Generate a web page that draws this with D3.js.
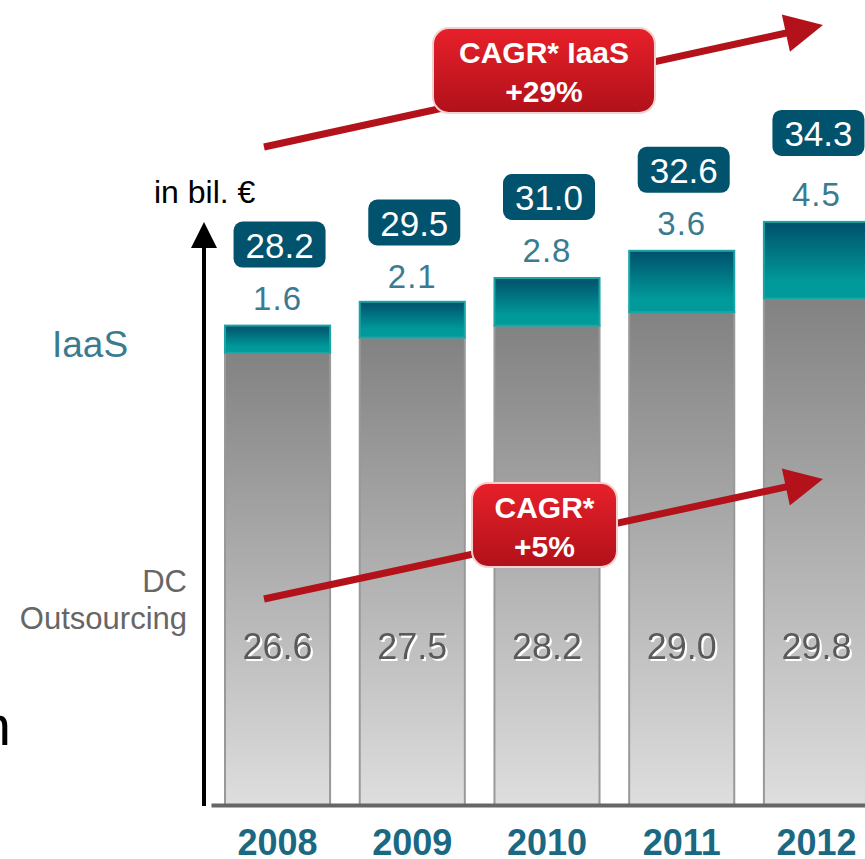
<!DOCTYPE html>
<html>
<head>
<meta charset="utf-8">
<title>DC Outsourcing and IaaS</title>
<style>
  body { margin: 0; background: #fff; }
  svg { display: block; font-family: "Liberation Sans", Arial, sans-serif; }
</style>
</head>
<body>
<div id="chart"></div>
<script src="https://cdn.jsdelivr.net/npm/d3@7"></script>
<script>
// data
const years = ["2008", "2009", "2010", "2011", "2012"];
const dcValues = [26.6, 27.5, 28.2, 29.0, 29.8];
const iaasValues = [1.6, 2.1, 2.8, 3.6, 4.5];
const totals = [28.2, 29.5, 31.0, 32.6, 34.3];
const yearTicks = ["2008", "2009", "2010", "2011", "2012"];

const W = 865, H = 859;
const baseY = 805;

const svg = d3.select('#chart').append('svg')
  .attr('width', W)
  .attr('height', H);

const defs = svg.append('defs');

const gGrey = defs.append('linearGradient').attr('id', 'grey').attr('x1', 0).attr('y1', 0).attr('x2', 0).attr('y2', 1);
gGrey.append('stop').attr('offset', 0).attr('stop-color', '#828282');
gGrey.append('stop').attr('offset', 1).attr('stop-color', '#dedede');

const gTeal = defs.append('linearGradient').attr('id', 'teal').attr('x1', 0).attr('y1', 0).attr('x2', 0).attr('y2', 1);
gTeal.append('stop').attr('offset', 0).attr('stop-color', '#00506b');
gTeal.append('stop').attr('offset', 0.78).attr('stop-color', '#009a9a');
gTeal.append('stop').attr('offset', 1).attr('stop-color', '#009a9a');

const gRed = defs.append('linearGradient').attr('id', 'red').attr('x1', 0).attr('y1', 0).attr('x2', 0).attr('y2', 1);
gRed.append('stop').attr('offset', 0).attr('stop-color', '#e8202a');
gRed.append('stop').attr('offset', 1).attr('stop-color', '#b0111a');

// white drop shadow for the DC values
const shadow = defs.append('filter').attr('id', 'wshadow')
  .attr('x', -0.1).attr('y', -0.1).attr('width', 1.3).attr('height', 1.3);
shadow.append('feFlood').attr('flood-color', '#fff').attr('result', 'c');
shadow.append('feComposite').attr('in', 'c').attr('in2', 'SourceAlpha').attr('operator', 'in').attr('result', 'w');
shadow.append('feOffset').attr('in', 'w').attr('dx', 2).attr('dy', 2).attr('result', 'o');
const merge = shadow.append('feMerge');
merge.append('feMergeNode').attr('in', 'o');
merge.append('feMergeNode').attr('in', 'SourceGraphic');

// scales
const x = d3.scaleBand()
  .domain(years)
  .range([211, 883])
  .paddingInner(0.22)
  .paddingOuter(0.104);

const y = d3.scaleLinear()
  .domain([0, 35])
  .range([baseY, baseY - 35 * 17]);

const rows = years.map((yr, i) => ({
  year: yr, dc: dcValues[i], iaas: iaasValues[i], total: totals[i]
}));

// bars
const bars = svg.append('g');
bars.selectAll('rect.dc')
  .data(rows)
  .enter().append('rect')
  .attr('class', 'dc')
  .attr('x', d => x(d.year))
  .attr('y', d => y(d.dc))
  .attr('width', x.bandwidth())
  .attr('height', d => y(0) - y(d.dc))
  .attr('fill', 'url(#grey)')
  .attr('stroke', '#999')
  .attr('stroke-width', 2);

bars.selectAll('rect.iaas')
  .data(rows)
  .enter().append('rect')
  .attr('class', 'iaas')
  .attr('x', d => x(d.year))
  .attr('y', d => y(d.dc + d.iaas))
  .attr('width', x.bandwidth())
  .attr('height', d => y(d.dc) - y(d.dc + d.iaas))
  .attr('fill', 'url(#teal)')
  .attr('stroke', '#1aa5a5')
  .attr('stroke-width', 2);

// dc values
svg.append('g')
  .attr('font-size', 36)
  .attr('text-anchor', 'middle')
  .selectAll('text')
  .data(rows)
  .enter().append('text')
  .attr('x', d => x(d.year) + x.bandwidth() / 2)
  .attr('y', 659)
  .attr('fill', '#5a5a5a')
  .attr('filter', 'url(#wshadow)')
  .text(d => d.dc.toFixed(1));

// iaas values
svg.append('g').selectAll('text')
  .data(rows)
  .enter().append('text')
  .attr('x', d => x(d.year) + x.bandwidth() / 2)
  .attr('y', d => y(d.total) - 16)
  .attr('text-anchor', 'middle')
  .attr('font-size', 33)
  .attr('letter-spacing', 1)
  .attr('fill', '#3b7b92')
  .text(d => d.iaas.toFixed(1));

// total badges
const badge = svg.append('g').selectAll('g')
  .data(rows)
  .enter().append('g')
  .attr('transform', d => `translate(${x(d.year) + x.bandwidth() / 2 + 2},${y(d.total) - 81 - (d.total > 34 ? 8 : 0)})`);
badge.append('rect')
  .attr('x', -46).attr('y', -23)
  .attr('width', 92).attr('height', 46)
  .attr('rx', 9)
  .attr('fill', '#00526d');
badge.append('text')
  .attr('y', 13)
  .attr('text-anchor', 'middle')
  .attr('font-size', 35)
  .attr('fill', '#fff')
  .text(d => d.total.toFixed(1));

// x axis
const xAxis = svg.append('g')
  .attr('transform', `translate(0,${baseY})`)
  .call(d3.axisBottom(x).tickValues(yearTicks).tickSize(0).tickPadding(24));
xAxis.select('.domain')
  .attr('stroke', '#666')
  .attr('stroke-width', 4);
xAxis.selectAll('text')
  .attr('font-family', '"Liberation Sans", Arial, sans-serif')
  .attr('font-size', 36)
  .attr('font-weight', 'bold')
  .attr('fill', '#1b6882');

// y axis arrow
svg.append('line')
  .attr('x1', 204).attr('x2', 204)
  .attr('y1', baseY + 1).attr('y2', 246)
  .attr('stroke', '#000')
  .attr('stroke-width', 4);
svg.append('path')
  .attr('d', 'M191,248 L217,248 L204,222 Z')
  .attr('fill', '#000');

svg.append('text')
  .attr('x', 154).attr('y', 203)
  .attr('font-size', 32)
  .attr('fill', '#000')
  .text('in bil. €');

// series labels
svg.append('text')
  .attr('x', 52).attr('y', 357)
  .attr('font-size', 37)
  .attr('fill', '#3b7b92')
  .text('IaaS');
svg.append('text')
  .attr('x', 187).attr('y', 592)
  .attr('text-anchor', 'end')
  .attr('font-size', 31)
  .attr('fill', '#666')
  .text('DC');
svg.append('text')
  .attr('x', 187).attr('y', 629)
  .attr('text-anchor', 'end')
  .attr('font-size', 31)
  .attr('fill', '#666')
  .text('Outsourcing');

svg.append('text')
  .attr('x', 11).attr('y', 745)
  .attr('text-anchor', 'end')
  .attr('font-size', 56)
  .attr('fill', '#000')
  .text('n');

// CAGR arrows
function arrow(x1, y1, tip) {
  const dx = tip[0] - x1, dy = tip[1] - y1;
  const len = Math.hypot(dx, dy);
  const ux = dx / len, uy = dy / len;
  const bx = tip[0] - ux * 38, by = tip[1] - uy * 38;
  svg.append('line')
    .attr('x1', x1).attr('y1', y1)
    .attr('x2', bx + ux * 4).attr('y2', by + uy * 4)
    .attr('stroke', '#b3121b')
    .attr('stroke-width', 7);
  svg.append('path')
    .attr('d', `M${tip[0]},${tip[1]} L${bx - uy * 19},${by + ux * 19} L${bx + uy * 19},${by - ux * 19} Z`)
    .attr('fill', '#b3121b');
}
arrow(264, 147, [823, 25]);
arrow(264, 599, [823, 479]);

function cagrBox(cx, top, w, h, lines) {
  const g = svg.append('g');
  g.append('rect')
    .attr('x', cx - w / 2).attr('y', top)
    .attr('width', w).attr('height', h)
    .attr('rx', 16)
    .attr('fill', 'url(#red)')
    .attr('stroke', '#f6d0d0')
    .attr('stroke-width', 2);
  g.selectAll('text')
    .data(lines)
    .enter().append('text')
    .attr('x', cx)
    .attr('y', (d, i) => top + 35 + i * 39)
    .attr('text-anchor', 'middle')
    .attr('font-size', 30)
    .attr('font-weight', 'bold')
    .attr('fill', '#fff')
    .text(d => d);
}
cagrBox(544, 28, 222, 85, ['CAGR* IaaS', '+29%']);
cagrBox(544.5, 483, 145, 84, ['CAGR*', '+5%']);
</script>
</body>
</html>
